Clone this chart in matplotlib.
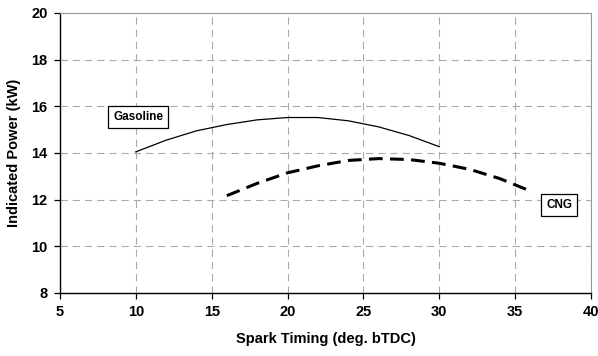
import matplotlib.pyplot as plt

# Gasoline curve
gas_x = [10, 12, 14, 16, 18, 20, 22, 24, 26, 28, 30]
gas_y = [14.05, 14.55, 14.95, 15.22, 15.42, 15.52, 15.52, 15.38, 15.12, 14.75, 14.27]

# CNG curve
cng_x = [16, 18, 20, 22, 24, 26, 28, 30, 32, 34, 36]
cng_y = [12.17, 12.7, 13.15, 13.45, 13.68, 13.76, 13.72, 13.56, 13.3, 12.9, 12.37]

x_ticks = [5, 10, 15, 20, 25, 30, 35, 40]
y_ticks = [8, 10, 12, 14, 16, 18, 20]

plt.rcParams['font.family'] = ['Liberation Sans', 'DejaVu Sans']

fig = plt.figure(figsize=(5.98, 3.56), dpi=100)
ax = fig.add_axes([0.1003, 0.177, 0.888, 0.7865])

ax.plot(gas_x, gas_y, color='black', linewidth=0.9)
ax.plot(cng_x, cng_y, color='black', linewidth=2.2, dashes=(4.5, 2.4))

ax.set_xlim(5, 40)
ax.set_ylim(8, 20)
ax.set_xticks(x_ticks)
ax.set_yticks(y_ticks)
ax.grid(True, color='#aaaaaa', linestyle=(0, (6.5, 4.5)), linewidth=0.8)
ax.set_axisbelow(True)

for side in ['top', 'right']:
    ax.spines[side].set_color('#999999')
    ax.spines[side].set_linewidth(0.8)
for side in ['left', 'bottom']:
    ax.spines[side].set_color('black')
    ax.spines[side].set_linewidth(1.0)

ax.tick_params(direction='out', length=4, width=0.9, labelsize=10.5, pad=5)
for lab in ax.get_xticklabels() + ax.get_yticklabels():
    lab.set_fontweight('bold')

ax.set_xlabel('Spark Timing (deg. bTDC)', fontsize=10.5, fontweight='bold', labelpad=9)
ax.set_ylabel('Indicated Power (kW)', fontsize=10.5, fontweight='bold', labelpad=7)

box = dict(boxstyle='square,pad=0.4', facecolor='white', edgecolor='black', linewidth=0.9)
ax.text(10.15, 15.54, 'Gasoline', fontsize=8.5, fontweight='bold', ha='center', va='center', bbox=box)
ax.text(37.9, 11.77, 'CNG', fontsize=8.5, fontweight='bold', ha='center', va='center', bbox=box)

fig.savefig('out.png', dpi=100)
